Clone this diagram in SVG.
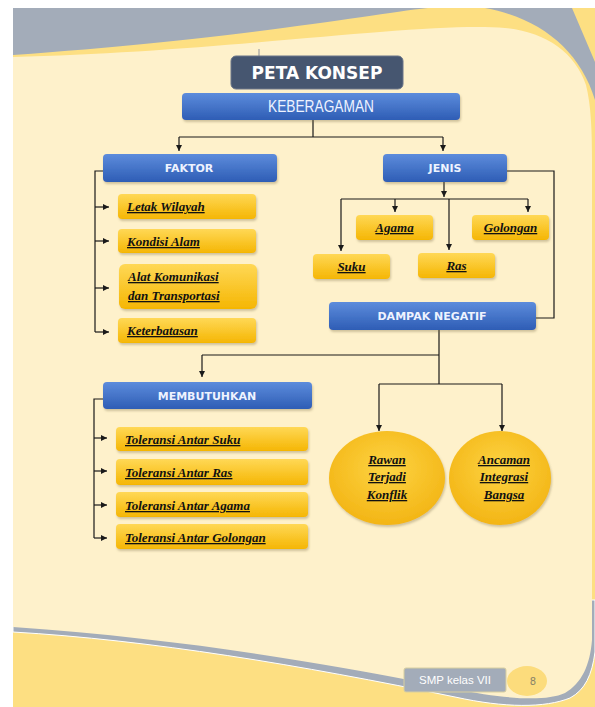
<svg xmlns="http://www.w3.org/2000/svg" width="595" height="707" viewBox="0 0 595 707">
<defs>
<linearGradient id="gBlue" x1="0" y1="0" x2="0" y2="1">
<stop offset="0" stop-color="#5d8cdc"/><stop offset="1" stop-color="#2e5db5"/>
</linearGradient>
<linearGradient id="gYel" x1="0" y1="0" x2="0" y2="1">
<stop offset="0" stop-color="#ffd856"/><stop offset="1" stop-color="#f5b603"/>
</linearGradient>
<radialGradient id="gEll" cx="0.5" cy="0.4" r="0.6">
<stop offset="0" stop-color="#fdd443"/><stop offset="1" stop-color="#f3b515"/>
</radialGradient>
<filter id="sh" x="-10%" y="-20%" width="120%" height="160%">
<feDropShadow dx="1" dy="2" stdDeviation="1.2" flood-color="#7a6a40" flood-opacity="0.35"/>
</filter>
<marker id="ah" markerUnits="userSpaceOnUse" markerWidth="7" markerHeight="7" refX="6" refY="3" orient="auto">
<path d="M0,0 L6,3 L0,6 z" fill="#1a1a1a"/>
</marker>
<style>
.blue{fill:url(#gBlue);filter:url(#sh)}
.yel{fill:url(#gYel);filter:url(#sh)}
.bl{font-family:"DejaVu Sans",Verdana,sans-serif;font-weight:bold;font-size:11px;fill:#eef3ff;text-anchor:middle}
.sc{font-family:"Liberation Serif","Times New Roman",serif;font-style:italic;font-weight:bold;font-size:13px;fill:#111;text-decoration:underline}
.mid{text-anchor:middle}
.cn path{fill:none;stroke:#1a1a1a;stroke-width:1.2}
.ar{marker-end:url(#ah)}
</style>
</defs>

<!-- page background -->
<rect x="13" y="8" width="582" height="699" fill="#fddf82"/>
<path d="M13,8 H428 C370,14 250,38 13,55 Z" fill="#a3acb9"/>
<path d="M485,8 H572 L595,62 V100 C580,50 540,18 485,8 Z" fill="#a3acb9"/>
<path d="M13,632 C150,640 300,665 455,697 C505,708 545,708 570,698 C585,690 592,675 595,652 V600 H13 Z" fill="#a3acb9" stroke="#ffffff" stroke-width="1"/>
<path d="M13,57 C150,54 300,38 380,32 C440,27 480,26 505,28 C545,32 575,52 586,85 C591,105 592,130 592,160 L592,640 C590,665 582,683 565,693 C545,702 505,699 455,689 C350,668 200,640 13,627 Z" fill="#fef1cb"/>
<line x1="259" y1="49" x2="259" y2="62" stroke="#8f9199" stroke-width="1"/>

<!-- connectors -->
<g id="connectors" class="cn">
<path d="M313,120 V137 M179,137 H443"/>
<path class="ar" d="M179,137 V151"/>
<path class="ar" d="M443,137 V151"/>
<path d="M103,171 H95 V332"/>
<path class="ar" d="M95,207 H109"/>
<path class="ar" d="M95,241 H109"/>
<path class="ar" d="M95,288 H109"/>
<path class="ar" d="M95,332 H109"/>
<path class="ar" d="M444,182 V197"/>
<path d="M341,199 H528"/>
<path class="ar" d="M341,199 V251"/>
<path class="ar" d="M395,199 V212"/>
<path class="ar" d="M449,199 V250"/>
<path class="ar" d="M528,199 V212"/>
<path d="M507,171 H554 V318 H536"/>
<path d="M439,330 V384 M439,355 H202"/>
<path class="ar" d="M202,355 V377"/>
<path d="M379,384 H502"/>
<path class="ar" d="M379,384 V431"/>
<path class="ar" d="M502,384 V431"/>
<path d="M103,399 H94 V538"/>
<path class="ar" d="M94,438 H107"/>
<path class="ar" d="M94,471 H107"/>
<path class="ar" d="M94,505 H107"/>
<path class="ar" d="M94,538 H107"/>
</g>

<g id="peta-konsep">
<rect x="231" y="56" width="172" height="33" rx="5" fill="#465670" stroke="#6a7589" stroke-width="1"/>
<text x="317" y="78.5" font-family="'DejaVu Sans',Verdana,sans-serif" font-weight="bold" font-size="17" fill="#ffffff" text-anchor="middle">PETA KONSEP</text>
</g>
<g id="keberagaman">
<rect class="blue" x="182" y="93" width="278" height="27" rx="4"/>
<text x="321" y="112" font-family="'Liberation Sans',Arial,sans-serif" font-size="16" fill="#eef3ff" text-anchor="middle" textLength="106" lengthAdjust="spacingAndGlyphs">KEBERAGAMAN</text>
</g>
<g id="faktor">
<rect class="blue" x="103" y="154" width="174" height="28" rx="4"/>
<text class="bl" x="189" y="172">FAKTOR</text>
</g>
<g id="jenis">
<rect class="blue" x="383" y="154" width="124" height="28" rx="4"/>
<text class="bl" x="445" y="172">JENIS</text>
</g>
<g id="letak-wilayah">
<rect class="yel" x="118" y="194" width="138" height="25" rx="4"/>
<text class="sc" x="127" y="211">Letak Wilayah</text>
</g>
<g id="kondisi-alam">
<rect class="yel" x="118" y="229" width="138" height="24" rx="4"/>
<text class="sc" x="127" y="246">Kondisi Alam</text>
</g>
<g id="alat-komunikasi">
<rect class="yel" x="119" y="264" width="138" height="45" rx="6"/>
<text class="sc" x="128" y="281">Alat Komunikasi</text>
<text class="sc" x="128" y="300">dan Transportasi</text>
</g>
<g id="keterbatasan">
<rect class="yel" x="118" y="318" width="138" height="25" rx="4"/>
<text class="sc" x="127" y="335">Keterbatasan</text>
</g>
<g id="agama">
<rect class="yel" x="356" y="215" width="77" height="25" rx="4"/>
<text class="sc mid" x="394.5" y="232">Agama</text>
</g>
<g id="golongan">
<rect class="yel" x="472" y="215" width="77" height="25" rx="4"/>
<text class="sc mid" x="510.5" y="232">Golongan</text>
</g>
<g id="suku">
<rect class="yel" x="313" y="254" width="77" height="25" rx="4"/>
<text class="sc mid" x="351.5" y="271">Suku</text>
</g>
<g id="ras">
<rect class="yel" x="418" y="253" width="77" height="25" rx="4"/>
<text class="sc mid" x="456.5" y="270">Ras</text>
</g>
<g id="dampak-negatif">
<rect class="blue" x="329" y="302" width="207" height="28" rx="4"/>
<text class="bl" x="432" y="320">DAMPAK NEGATIF</text>
</g>
<g id="membutuhkan">
<rect class="blue" x="103" y="382" width="209" height="27" rx="4"/>
<text class="bl" x="207" y="400">MEMBUTUHKAN</text>
</g>
<g id="toleransi-suku">
<rect class="yel" x="116" y="427" width="192" height="24" rx="4"/>
<text class="sc" x="125" y="444">Toleransi Antar Suku</text>
</g>
<g id="toleransi-ras">
<rect class="yel" x="116" y="459" width="192" height="26" rx="4"/>
<text class="sc" x="125" y="477">Toleransi Antar Ras</text>
</g>
<g id="toleransi-agama">
<rect class="yel" x="116" y="492" width="192" height="25" rx="4"/>
<text class="sc" x="125" y="510">Toleransi Antar Agama</text>
</g>
<g id="toleransi-golongan">
<rect class="yel" x="116" y="524" width="192" height="25" rx="4"/>
<text class="sc" x="125" y="542">Toleransi Antar Golongan</text>
</g>
<g id="rawan-konflik">
<ellipse cx="387" cy="478" rx="58" ry="47" fill="url(#gEll)" filter="url(#sh)"/>
<text class="sc mid" x="387" y="464">Rawan</text>
<text class="sc mid" x="387" y="481">Terjadi</text>
<text class="sc mid" x="387" y="499">Konflik</text>
</g>
<g id="ancaman-integrasi">
<ellipse cx="500" cy="478" rx="51" ry="47" fill="url(#gEll)" filter="url(#sh)"/>
<text class="sc mid" x="504" y="464">Ancaman</text>
<text class="sc mid" x="504" y="481">Integrasi</text>
<text class="sc mid" x="504" y="499">Bangsa</text>
</g>

<g id="footer">
<rect x="404" y="668" width="102" height="24" rx="2" fill="#a3acb9" stroke="#d8cfa0" stroke-width="1"/>
<text x="455" y="684" font-family="'Liberation Sans',Tahoma,sans-serif" font-size="11.5" fill="#ffffff" text-anchor="middle">SMP kelas VII</text>
<ellipse cx="527" cy="681" rx="20" ry="15" fill="#fcdc7c"/>
<text x="533" y="685" font-family="'DejaVu Sans',sans-serif" font-size="10" fill="#8a8468" text-anchor="middle">8</text>
</g>
</svg>
